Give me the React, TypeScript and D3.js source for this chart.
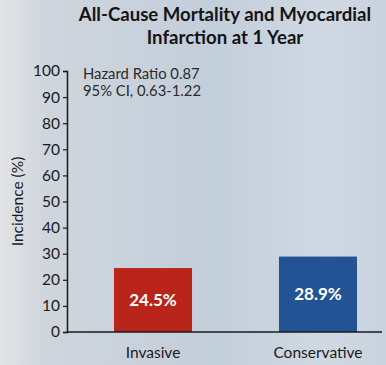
import * as d3 from "d3";
import { useEffect, useRef } from "react";

const categories = ["Invasive", "Conservative"];
const values = [24.5, 28.9];
const barLabels = ["24.5%", "28.9%"];
const barColors = ["#b9241b", "#235395"];
const yTicks = [0, 10, 20, 30, 40, 50, 60, 70, 80, 90, 100];
const titleLines = ["All-Cause Mortality and Myocardial", "Infarction at 1 Year"];
const noteLines = ["Hazard Ratio 0.87", "95% CI, 0.63-1.22"];

const W = 386, H = 365;
const FONT = "Lato, 'Open Sans', sans-serif";

const App = () => {
  const ref: any = useRef();

  useEffect(() => {
    const svg = d3.select(ref.current);
    svg.selectAll("*").remove();

    // background
    const defs = svg.append("defs");
    const grad = defs.append("linearGradient").attr("id", "bg").attr("x1", 0).attr("x2", 1).attr("y1", 0).attr("y2", 0);
    grad.append("stop").attr("offset", "0%").attr("stop-color", "#e2e4e6");
    grad.append("stop").attr("offset", "12%").attr("stop-color", "#cfd5dc");
    grad.append("stop").attr("offset", "55%").attr("stop-color", "#c3cedb");
    grad.append("stop").attr("offset", "85%").attr("stop-color", "#d0d9e3");
    grad.append("stop").attr("offset", "100%").attr("stop-color", "#c8d2de");
    svg.append("rect").attr("width", W).attr("height", H).attr("fill", "url(#bg)");

    const margin = { left: 67, right: 4, top: 71, bottom: 33 };

    const x = d3.scaleBand().domain(categories).range([67, 404]).paddingInner(0.527).paddingOuter(0.285);
    const y = d3.scaleLinear().domain([0, 100]).range([H - margin.bottom, margin.top]);

    // title
    svg.append("g").selectAll("text").data(titleLines).join("text")
      .attr("x", 225).attr("y", (_, i) => 21 + i * 23)
      .attr("text-anchor", "middle")
      .attr("font-family", FONT).attr("font-weight", "bold").attr("font-size", 18.6)
      .attr("fill", "#141414")
      .text(d => d);

    // bars
    svg.append("g").selectAll("rect").data(values).join("rect")
      .attr("x", (_, i) => x(categories[i]) as number)
      .attr("width", x.bandwidth())
      .attr("y", d => y(d))
      .attr("height", d => y(0) - y(d))
      .attr("fill", (_, i) => barColors[i]);

    svg.append("g").selectAll("text").data(values).join("text")
      .attr("x", (_, i) => (x(categories[i]) as number) + x.bandwidth() / 2)
      .attr("y", d => (y(d) + y(0)) / 2 + 6)
      .attr("text-anchor", "middle")
      .attr("font-family", FONT).attr("font-weight", "bold").attr("font-size", 17)
      .attr("fill", "#fff")
      .text((_, i) => barLabels[i]);

    // y axis
    const yAxis = svg.append("g")
      .attr("transform", `translate(${margin.left},0)`)
      .call(d3.axisLeft(y).tickValues(yTicks).tickSize(4).tickPadding(3));
    yAxis.select(".domain").attr("stroke", "#1a1a1a").attr("stroke-width", 1.5);
    yAxis.selectAll(".tick line").attr("stroke", "#1a1a1a").attr("stroke-width", 1.2);
    yAxis.selectAll(".tick text").attr("font-family", FONT).attr("font-size", 15.5).attr("fill", "#1a1a1a");

    // x axis line
    svg.append("line")
      .attr("x1", margin.left).attr("x2", W - margin.right)
      .attr("y1", y(0)).attr("y2", y(0))
      .attr("stroke", "#1a1a1a").attr("stroke-width", 1.5);

    // category labels
    svg.append("g").selectAll("text").data(categories).join("text")
      .attr("x", d => (x(d) as number) + x.bandwidth() / 2)
      .attr("y", y(0) + 26)
      .attr("text-anchor", "middle")
      .attr("font-family", FONT).attr("font-size", 15.5)
      .attr("fill", "#1a1a1a")
      .text(d => d);

    // y label
    svg.append("text")
      .attr("transform", `translate(23,${(y(0) + y(100)) / 2}) rotate(-90)`)
      .attr("text-anchor", "middle")
      .attr("font-family", FONT).attr("font-size", 15.5)
      .attr("fill", "#1a1a1a")
      .text("Incidence (%)");

    // note
    svg.append("g").selectAll("text").data(noteLines).join("text")
      .attr("x", 83).attr("y", (_, i) => 79 + i * 17)
      .attr("font-family", FONT).attr("font-size", 14.8)
      .attr("fill", "#2a2a2a")
      .text(d => d);
  }, []);

  return (
    <svg ref={ref} width={W} height={H} style={{ position: "absolute", left: 0, top: 0 }} />
  );
};

export default App;
